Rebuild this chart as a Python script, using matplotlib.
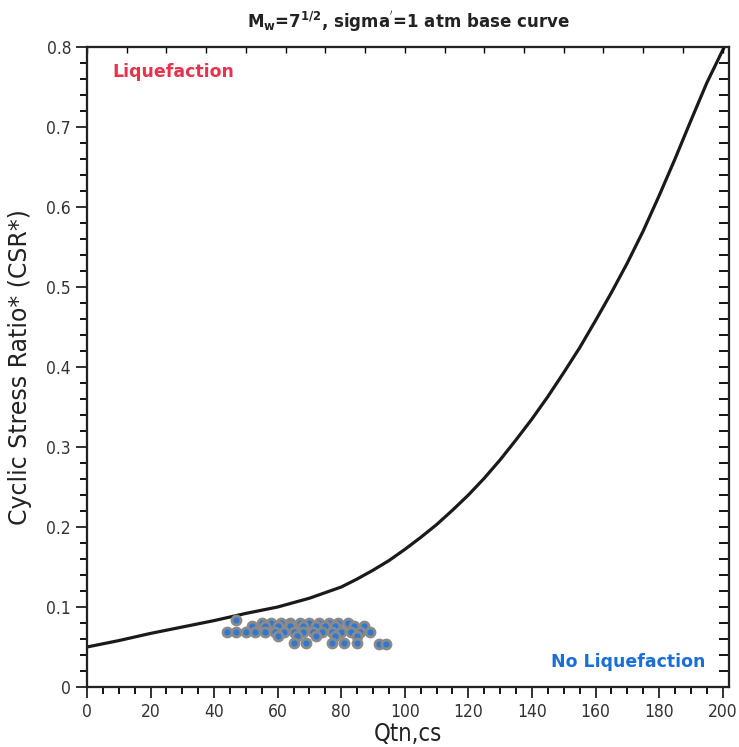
import matplotlib
matplotlib.use('agg')
import matplotlib.pyplot as plt
from matplotlib.ticker import MultipleLocator, NullFormatter

# base curve
qtn_curve = [0, 10, 20, 30, 40, 50, 60, 70, 80, 85, 90, 95, 100, 105, 110,
             115, 120, 125, 130, 135, 140, 145, 150, 155, 160, 165, 170,
             175, 180, 185, 190, 195, 200.5]
csr_curve = [0.050, 0.058, 0.067, 0.075, 0.083, 0.092, 0.100, 0.111, 0.125,
             0.135, 0.146, 0.158, 0.172, 0.187, 0.203, 0.221, 0.240, 0.261,
             0.284, 0.309, 0.335, 0.363, 0.393, 0.424, 0.458, 0.493, 0.530,
             0.570, 0.614, 0.660, 0.708, 0.755, 0.800]

# measured points
pts_qtn = [47,
           55, 58, 61, 64, 67, 70, 73, 76, 79, 82,
           52, 56, 60, 64, 68, 72, 75, 78, 84, 87,
           44, 47, 50, 53, 56, 59, 62, 65, 68, 71, 74, 77, 80, 83, 86, 89,
           60, 66, 72, 78, 85,
           65, 69, 77, 81, 85, 92, 94]
pts_csr = [0.084,
           0.080, 0.080, 0.080, 0.080, 0.080, 0.080, 0.080, 0.080, 0.080, 0.080,
           0.076, 0.076, 0.076, 0.076, 0.076, 0.076, 0.076, 0.076, 0.076, 0.076,
           0.069, 0.069, 0.069, 0.069, 0.069, 0.069, 0.069, 0.069, 0.069, 0.069,
           0.069, 0.069, 0.069, 0.069, 0.069, 0.069,
           0.064, 0.064, 0.064, 0.064, 0.064,
           0.055, 0.055, 0.055, 0.055, 0.055, 0.054, 0.054]

x_ticks = [0, 20, 40, 60, 80, 100, 120, 140, 160, 180, 200]
y_ticks = [0, 0.1, 0.2, 0.3, 0.4, 0.5, 0.6, 0.7, 0.8]
y_labels = ['0', '0.1', '0.2', '0.3', '0.4', '0.5', '0.6', '0.7', '0.8']

fig = plt.figure(figsize=(7.39, 7.47), dpi=100)
pos = [87 / 739, 60 / 747, 642 / 739, 640 / 747]
ax = fig.add_axes(pos)

ax.plot(qtn_curve, csr_curve, color='#1a1a1a', lw=2.3, zorder=3,
        solid_joinstyle='round')
ax.scatter(pts_qtn, pts_csr, s=42, facecolor='#2f78d2', edgecolor='#8a8a8a',
           linewidths=2.0, zorder=4)

ax.set_xlim(0, 202)
ax.set_ylim(0, 0.8)

ax.set_xticks(x_ticks)
ax.set_yticks(y_ticks)
ax.set_yticklabels(y_labels)
ax.xaxis.set_minor_locator(MultipleLocator(5))
ax.yaxis.set_minor_locator(MultipleLocator(0.02))
ax.tick_params(which='major', direction='out', length=8, width=1.3,
               labelsize=12.5, colors='#222222', top=False, right=False)
ax.tick_params(which='minor', direction='out', length=5, width=1.3,
               top=False, right=False)
for lab in ax.get_xticklabels() + ax.get_yticklabels():
    lab.set_fontstretch('condensed')
    lab.set_color('#333333')

# right side ticks, pointing in
axr = ax.twinx()
axr.set_ylim(0, 0.8)
axr.yaxis.set_major_locator(MultipleLocator(0.02))
axr.yaxis.set_major_formatter(NullFormatter())
axr.tick_params(axis='y', which='both', left=False, right=True,
                direction='in', length=7, width=1.3)

# top ticks, pointing in
axt = ax.twiny()
axt.set_xlim(0, 202)
axt.xaxis.set_major_locator(MultipleLocator(12.5))
axt.xaxis.set_major_formatter(NullFormatter())
axt.tick_params(axis='x', which='both', bottom=False, top=True,
                direction='in', length=4, width=1.0)

for a in (ax, axr, axt):
    for s in a.spines.values():
        s.set_linewidth(1.5)
        s.set_color('#222222')

ax.set_xlabel('Qtn,cs', fontsize=17, fontstretch='condensed', labelpad=1,
              color='#222222')
ax.set_ylabel('Cyclic Stress Ratio* (CSR*)', fontsize=17, labelpad=10,
              color='#222222')
axt.set_title("M$_\\mathbf{w}$=7$^{\\mathbf{1/2}}$, sigma$^{'}$=1 atm base curve",
              fontsize=12, fontweight='bold', pad=14, color='#222222')

ax.text(8, 0.769, 'Liquefaction', color='#e8334f', fontsize=12.5,
        fontweight='bold', va='center', ha='left')
ax.text(194.5, 0.031, 'No Liquefaction', color='#1a6fd6', fontsize=12.5,
        fontweight='bold', va='center', ha='right')

fig.savefig('out.png', dpi=100)
